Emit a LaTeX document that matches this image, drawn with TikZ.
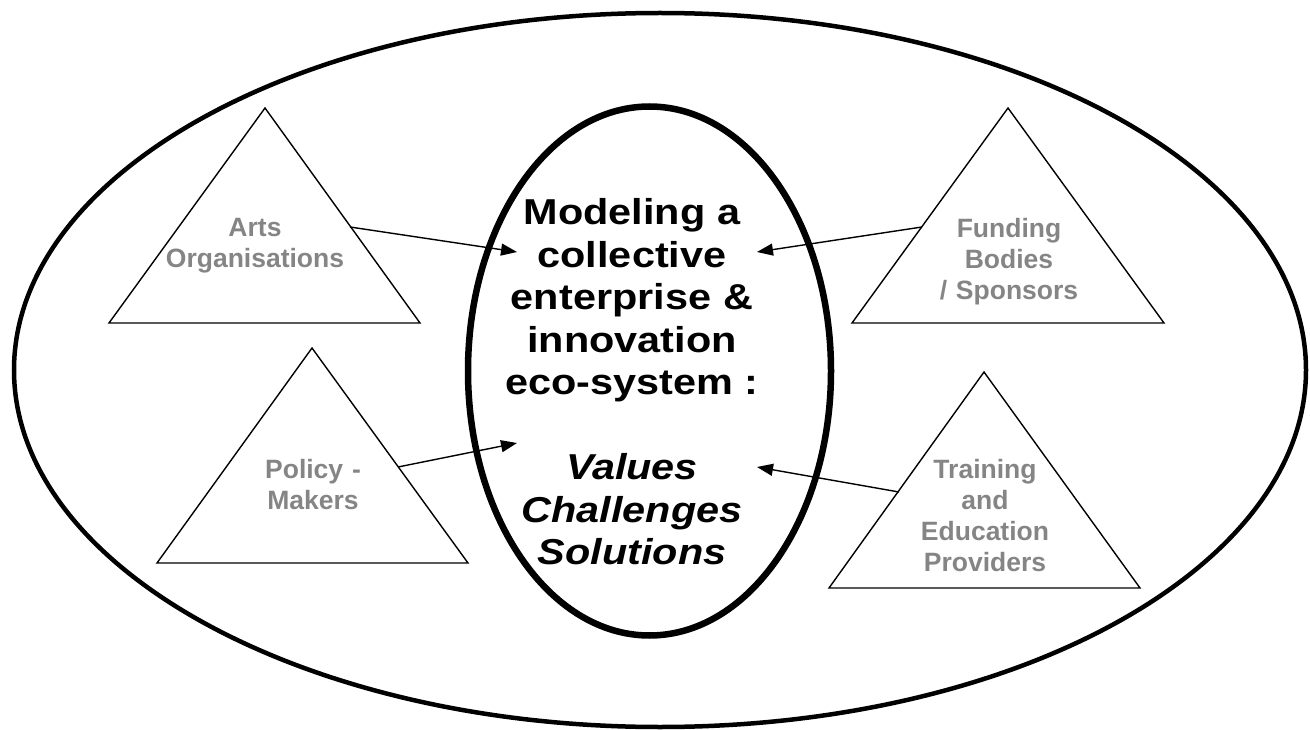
\documentclass[tikz,border=0pt]{standalone}
\usepackage{fontspec}
\setmainfont{Liberation Sans}
\newfontfamily\hubfont[FakeStretch=1.15]{Liberation Sans}
\usepackage{tikz}
\usetikzlibrary{arrows.meta}
\definecolor{actorgray}{RGB}{133,133,133}
\tikzset{tri/.style={line width=1.4pt, line join=miter}}
\tikzset{link/.style={line width=1.4pt, -{Triangle[length=16pt,width=12pt]}}}
\tikzset{actor/.style={text=actorgray, font=\fontsize{26.5}{31}\selectfont\bfseries,
  align=center, text width=220pt, anchor=base, inner sep=0pt}}
\tikzset{hub/.style={font=\hubfont\fontsize{36}{42.5}\selectfont\bfseries,
  align=center, text width=320pt, anchor=base, inner sep=0pt}}

\begin{document}
\begin{tikzpicture}[x=1pt, y=-1pt]
\useasboundingbox (0,0) rectangle (1310,730);

\draw[line width=4.5pt] (660,370) ellipse [x radius=646, y radius=357];
\draw[line width=6.5pt] (649.5,371) ellipse [x radius=181.5, y radius=264.5];

\node[hub] (hub) at (632,225) {Modeling a\\ collective\\ enterprise \&\\ innovation\\ eco-system :\\[42.5pt]
  \itshape Values\\ Challenges\\ Solutions};

% triangles
\coordinate (artsTop) at (265,108);
\coordinate (artsL) at (109,323);
\coordinate (artsR) at (420,323);
\draw[tri] (artsTop) -- (artsL) -- (artsR) -- cycle;
\node[actor] (arts) at (255,237) {Arts\\ Organisations};

\coordinate (fundTop) at (1008,108);
\coordinate (fundL) at (852,323);
\coordinate (fundR) at (1164,323);
\draw[tri] (fundTop) -- (fundL) -- (fundR) -- cycle;
\node[actor] (fund) at (1009,238) {Funding\\ Bodies\\ / Sponsors};

\coordinate (policyTop) at (312,348);
\coordinate (policyL) at (157,563);
\coordinate (policyR) at (468,563);
\draw[tri] (policyTop) -- (policyL) -- (policyR) -- cycle;
\node[actor] (policy) at (313,478) {Policy -\\ Makers};

\coordinate (trainTop) at (984,372);
\coordinate (trainL) at (829,588);
\coordinate (trainR) at (1140,588);
\draw[tri] (trainTop) -- (trainL) -- (trainR) -- cycle;
\node[actor] (train) at (985,478) {Training\\ and\\ Education\\ Providers};

% arrows into the hub
\coordinate (artsOut) at (350,227);
\coordinate (hubNW) at (517,252);
\coordinate (fundOut) at (922,227);
\coordinate (hubNE) at (757,252);
\coordinate (policyOut) at (398,467);
\coordinate (hubSW) at (517,443);
\coordinate (trainOut) at (899,492);
\coordinate (hubSE) at (757,467);
\draw[link] (artsOut) -- (hubNW);
\draw[link] (fundOut) -- (hubNE);
\draw[link] (policyOut) -- (hubSW);
\draw[link] (trainOut) -- (hubSE);
\end{tikzpicture}
\end{document}
